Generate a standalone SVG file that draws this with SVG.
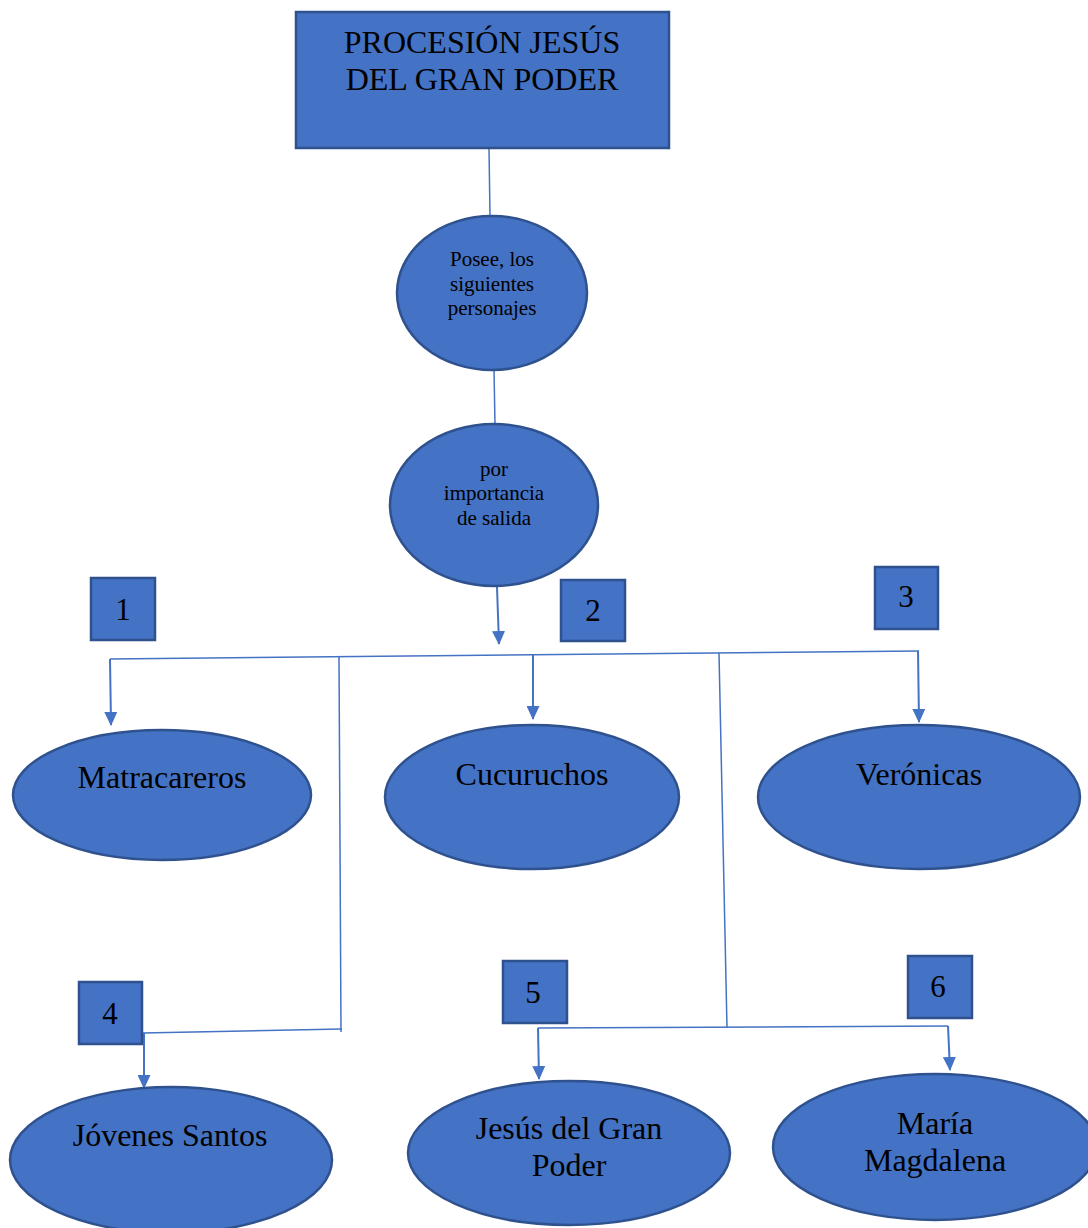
<svg xmlns="http://www.w3.org/2000/svg" width="1088" height="1228" viewBox="0 0 1088 1228">
<style>
.n{fill:#4472C4;stroke:#2F528F;stroke-width:2.5}
.t{font-family:"Liberation Serif","Times New Roman",serif;fill:#000;text-anchor:middle}
.c{stroke:#4472C4;stroke-width:1.5;fill:none}
.a{stroke:#4472C4;stroke-width:2;fill:none;marker-end:url(#ah)}
</style>
<defs>
<marker id="ah" markerWidth="14" markerHeight="13" refX="13" refY="6.5" orient="auto" markerUnits="userSpaceOnUse" viewBox="0 0 14 13">
<path d="M0,0 L14,6.5 L0,13 Z" fill="#4472C4"/>
</marker>
</defs>
<rect width="1088" height="1228" fill="#fff"/>
<g id="connectors">
<line class="c" x1="489" y1="148" x2="490" y2="216"/>
<line class="c" x1="494" y1="370" x2="495" y2="425"/>
<line class="a" x1="497" y1="587" x2="499" y2="644"/>
<polyline class="c" points="110,659 919,651"/>
<line class="a" x1="110" y1="659" x2="111" y2="725"/>
<line class="a" x1="533" y1="655" x2="533" y2="719"/>
<line class="a" x1="918" y1="651" x2="919" y2="722"/>
<line class="c" x1="339" y1="656" x2="341" y2="1032"/>
<line class="c" x1="719" y1="653" x2="727" y2="1028"/>
<polyline class="c" points="342,1029 143,1033"/>
<line class="a" x1="144" y1="1033" x2="144" y2="1088"/>
<polyline class="c" points="538,1028 948,1026"/>
<line class="a" x1="538" y1="1028" x2="539" y2="1079"/>
<line class="a" x1="948" y1="1026" x2="950" y2="1070"/>
</g>
<g id="title">
<rect class="n" x="296" y="12" width="373" height="136"/>
<text class="t" x="482" y="53" font-size="32">PROCESIÓN JESÚS</text>
<text class="t" x="482" y="90" font-size="32">DEL GRAN PODER</text>
</g>
<g id="posee">
<ellipse class="n" cx="492" cy="293" rx="95" ry="77"/>
<text class="t" x="492" y="266" font-size="21">Posee, los</text>
<text class="t" x="492" y="291" font-size="21">siguientes</text>
<text class="t" x="492" y="315" font-size="21">personajes</text>
</g>
<g id="importancia">
<ellipse class="n" cx="494" cy="505" rx="104" ry="81"/>
<text class="t" x="494" y="476" font-size="21">por</text>
<text class="t" x="494" y="500" font-size="21">importancia</text>
<text class="t" x="494" y="525" font-size="21">de salida</text>
</g>
<g id="num1"><rect class="n" x="91" y="578" width="64" height="62"/><text class="t" x="123" y="620" font-size="31">1</text></g>
<g id="num2"><rect class="n" x="561" y="580" width="64" height="61"/><text class="t" x="593" y="621" font-size="31">2</text></g>
<g id="num3"><rect class="n" x="875" y="567" width="63" height="62"/><text class="t" x="906" y="607" font-size="31">3</text></g>
<g id="num4"><rect class="n" x="79" y="982" width="63" height="62"/><text class="t" x="110" y="1024" font-size="31">4</text></g>
<g id="num5"><rect class="n" x="503" y="961" width="64" height="62"/><text class="t" x="533" y="1003" font-size="31">5</text></g>
<g id="num6"><rect class="n" x="908" y="956" width="64" height="62"/><text class="t" x="938" y="997" font-size="31">6</text></g>
<g id="matracareros"><ellipse class="n" cx="162" cy="795" rx="149" ry="65"/><text class="t" x="162" y="788" font-size="32">Matracareros</text></g>
<g id="cucuruchos"><ellipse class="n" cx="532" cy="797" rx="147" ry="72"/><text class="t" x="532" y="785" font-size="32">Cucuruchos</text></g>
<g id="veronicas"><ellipse class="n" cx="919" cy="797" rx="161" ry="72"/><text class="t" x="919" y="785" font-size="32">Verónicas</text></g>
<g id="jovenes"><ellipse class="n" cx="171" cy="1160" rx="161" ry="73"/><text class="t" x="170" y="1146" font-size="32">Jóvenes Santos</text></g>
<g id="jesus"><ellipse class="n" cx="569" cy="1153" rx="161" ry="72"/><text class="t" x="569" y="1139" font-size="32">Jesús del Gran</text><text class="t" x="569" y="1176" font-size="32">Poder</text></g>
<g id="maria"><ellipse class="n" cx="935" cy="1147" rx="162" ry="73"/><text class="t" x="935" y="1134" font-size="32">María</text><text class="t" x="935" y="1171" font-size="32">Magdalena</text></g>
</svg>
